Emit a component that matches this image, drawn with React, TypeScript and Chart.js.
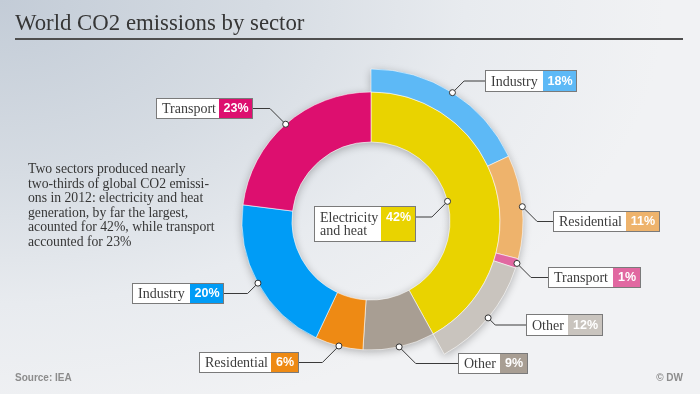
import React, { useEffect, useRef } from "react";
import { Chart, registerables } from "chart.js";
Chart.register(...registerables);

// ---- data ----
const sectors = ["Electricity and heat", "Other", "Residential", "Industry", "Transport"];
const sectorShares = [42, 9, 6, 20, 23];
const sectorColors = ["#e9d300", "#a89e93", "#ee8a14", "#009cf6", "#dd0f6f"];

const elecSplitNames = ["Industry", "Residential", "Transport", "Other"];
const elecSplitShares = [18, 11, 1, 12];
const elecSplitColors = ["#5db9f6", "#eeb36c", "#e168a1", "#c9c4be"];

// ---- label layout (boxes only; anchors come from the arcs) ----
type LabelLayout = {
  ds: number; idx: number; x: number; y: number; nameW: number; pctW: number; h: number;
  edge: "outer" | "inner"; lineDy?: number; wrap?: boolean; pctDy?: number;
};
const labelLayout: LabelLayout[] = [
  { ds: 0, idx: 0, x: 485, y: 70, nameW: 58, pctW: 34, h: 22, edge: "outer" },
  { ds: 0, idx: 1, x: 553, y: 211, nameW: 73, pctW: 34, h: 21, edge: "outer" },
  { ds: 0, idx: 2, x: 548, y: 267, nameW: 65, pctW: 28, h: 21, edge: "outer" },
  { ds: 0, idx: 3, x: 526, y: 314, nameW: 42, pctW: 35, h: 22, edge: "outer" },
  { ds: 1, idx: 1, x: 458, y: 353, nameW: 42, pctW: 28, h: 21, edge: "outer" },
  { ds: 1, idx: 2, x: 199, y: 352, nameW: 72, pctW: 28, h: 21, edge: "outer" },
  { ds: 1, idx: 3, x: 132, y: 283, nameW: 58, pctW: 34, h: 21, edge: "outer" },
  { ds: 1, idx: 4, x: 156, y: 98, nameW: 63, pctW: 34, h: 21, edge: "outer" },
  { ds: 1, idx: 0, x: 314, y: 206, nameW: 67, pctW: 35, h: 36, edge: "inner", lineDy: 11, wrap: true, pctDy: 12 },
];

const outerData = [...elecSplitShares, 100 - sectorShares[0]];
const outerColors = [...elecSplitColors, "rgba(0,0,0,0)"];

const shadowPlugin = {
  id: "ringShadow",
  beforeDatasetsDraw(chart: any) {
    const ctx = chart.ctx;
    const inner = chart.getDatasetMeta(1).data;
    const outer = chart.getDatasetMeta(0).data;
    if (!inner.length || !outer.length) return;
    const a0 = inner[0] as any;
    ctx.save();
    ctx.shadowColor = "rgba(0,0,0,0.28)";
    ctx.shadowBlur = 9;
    ctx.shadowOffsetY = 2;
    ctx.fillStyle = "#d8d8d8";
    ctx.beginPath();
    ctx.arc(a0.x, a0.y, a0.outerRadius, 0, Math.PI * 2);
    ctx.arc(a0.x, a0.y, a0.innerRadius, Math.PI * 2, 0, true);
    ctx.closePath();
    ctx.fill();
    const o0 = outer[0] as any;
    const o3 = outer[3] as any;
    ctx.beginPath();
    ctx.arc(o0.x, o0.y, o0.outerRadius, o0.startAngle, o3.endAngle);
    ctx.arc(o0.x, o0.y, o0.innerRadius + 2, o3.endAngle, o0.startAngle, true);
    ctx.closePath();
    ctx.fill();
    ctx.restore();
  },
};

const labelPlugin = {
  id: "boxLabels",
  afterDatasetsDraw(chart: any) {
    const ctx: CanvasRenderingContext2D = chart.ctx;
    labelLayout.forEach((L) => {
      const arc = chart.getDatasetMeta(L.ds).data[L.idx] as any;
      if (!arc) return;
      const mid = (arc.startAngle + arc.endAngle) / 2;
      const r = L.edge === "outer" ? arc.outerRadius : arc.innerRadius;
      const dot = { x: arc.x + Math.cos(mid) * r, y: arc.y + Math.sin(mid) * r };
      const name = L.ds === 0 ? elecSplitNames[L.idx] : sectors[L.idx];
      const value = L.ds === 0 ? elecSplitShares[L.idx] : sectorShares[L.idx];
      const color = L.ds === 0 ? elecSplitColors[L.idx] : sectorColors[L.idx];
      const lineY = L.y + (L.lineDy ?? L.h / 2);
      const toRight = L.x > dot.x;
      const dy = Math.abs(lineY - dot.y);
      const elbowX = dot.x + (toRight ? dy : -dy);
      const edgeX = toRight ? L.x : L.x + L.nameW + L.pctW;
      ctx.save();
      ctx.strokeStyle = "#3a3a3a";
      ctx.lineWidth = 1;
      ctx.beginPath();
      ctx.moveTo(dot.x, dot.y);
      ctx.lineTo(elbowX, lineY);
      ctx.lineTo(edgeX, lineY);
      ctx.stroke();
      ctx.fillStyle = "#ffffff";
      ctx.fillRect(L.x, L.y, L.nameW, L.h);
      ctx.fillStyle = color;
      ctx.fillRect(L.x + L.nameW, L.y, L.pctW, L.h);
      ctx.strokeStyle = "#7a7a7a";
      ctx.strokeRect(L.x + 0.5, L.y + 0.5, L.nameW + L.pctW - 1, L.h - 1);
      ctx.fillStyle = "#3c3c3c";
      ctx.font = "14px 'Liberation Serif', serif";
      ctx.textBaseline = "middle";
      ctx.textAlign = "left";
      if (L.wrap) {
        const sp = name.indexOf(" ");
        ctx.fillText(name.slice(0, sp), L.x + 6, L.y + 12);
        ctx.fillText(name.slice(sp + 1), L.x + 6, L.y + 25.5);
      } else {
        ctx.fillText(name, L.x + 6, L.y + L.h / 2 + 1);
      }
      ctx.fillStyle = "#ffffff";
      ctx.font = "bold 12.5px 'Liberation Sans', Arial, sans-serif";
      ctx.textAlign = "center";
      ctx.fillText(value + "%", L.x + L.nameW + L.pctW / 2, L.y + (L.pctDy ?? L.h / 2 + 0.5));
      ctx.beginPath();
      ctx.arc(dot.x, dot.y, 3, 0, Math.PI * 2);
      ctx.fillStyle = "#ffffff";
      ctx.fill();
      ctx.strokeStyle = "#333333";
      ctx.stroke();
      ctx.restore();
    });
  },
};

export default function App() {
  const ref = useRef<HTMLCanvasElement | null>(null);
  useEffect(() => {
    if (!ref.current) return;
    const chart = new Chart(ref.current, {
      type: "doughnut",
      data: {
        labels: sectors,
        datasets: [
          {
            data: outerData,
            backgroundColor: outerColors,
            borderColor: "rgba(255,255,255,0.55)",
            borderWidth: [1, 1, 1, 1, 0],
            weight: 23,
          },
          {
            data: sectorShares,
            backgroundColor: sectorColors,
            borderColor: "rgba(255,255,255,0.55)",
            borderWidth: 1,
            weight: 50,
          },
        ],
      } as any,
      options: {
        animation: false,
        responsive: false,
        events: [],
        radius: 152,
        cutout: "52%",
        layout: { padding: { left: 42, right: 0, top: 48, bottom: 0 } },
        plugins: { legend: { display: false }, tooltip: { enabled: false } },
      } as any,
      plugins: [shadowPlugin, labelPlugin],
    });
    return () => chart.destroy();
  }, []);

  return (
    <div
      style={{
        position: "fixed",
        left: 0,
        top: 0,
        width: 700,
        height: 394,
        overflow: "hidden",
        background:
          "radial-gradient(ellipse 95% 110% at 0% 0%, #c3ccd7 0%, #d6dce3 40%, #e8ebef 70%, #f1f2f4 100%)",
      }}
    >
      <canvas ref={ref} width={700} height={394} style={{ position: "absolute", left: 0, top: 0 }} />
      <div
        style={{
          position: "absolute",
          left: 15,
          top: 10,
          fontFamily: "'Liberation Serif', serif",
          fontSize: 22.8,
          lineHeight: "26px",
          color: "#363636",
          whiteSpace: "nowrap",
        }}
      >
        World CO2 emissions by sector
      </div>
      <div style={{ position: "absolute", left: 15, top: 38, width: 668, height: 2, background: "#4e4e4e" }} />
      <div
        style={{
          position: "absolute",
          left: 28,
          top: 162,
          fontFamily: "'Liberation Serif', serif",
          fontSize: 13.7,
          lineHeight: "14.5px",
          color: "#363636",
          whiteSpace: "nowrap",
        }}
      >
        Two sectors produced nearly
        <br />
        two-thirds of global CO2 emissi-
        <br />
        ons in 2012: electricity and heat
        <br />
        generation, by far the largest,
        <br />
        acounted for 42%, while transport
        <br />
        accounted for 23%
      </div>
      <div
        style={{
          position: "absolute",
          left: 15,
          top: 372,
          fontFamily: "'Liberation Sans', Arial, sans-serif",
          fontWeight: "bold",
          fontSize: 10,
          lineHeight: "12px",
          color: "#8c8c8c",
        }}
      >
        Source: IEA
      </div>
      <div
        style={{
          position: "absolute",
          right: 17,
          top: 372,
          fontFamily: "'Liberation Sans', Arial, sans-serif",
          fontWeight: "bold",
          fontSize: 10,
          lineHeight: "12px",
          color: "#8c8c8c",
        }}
      >
        © DW
      </div>
    </div>
  );
}
